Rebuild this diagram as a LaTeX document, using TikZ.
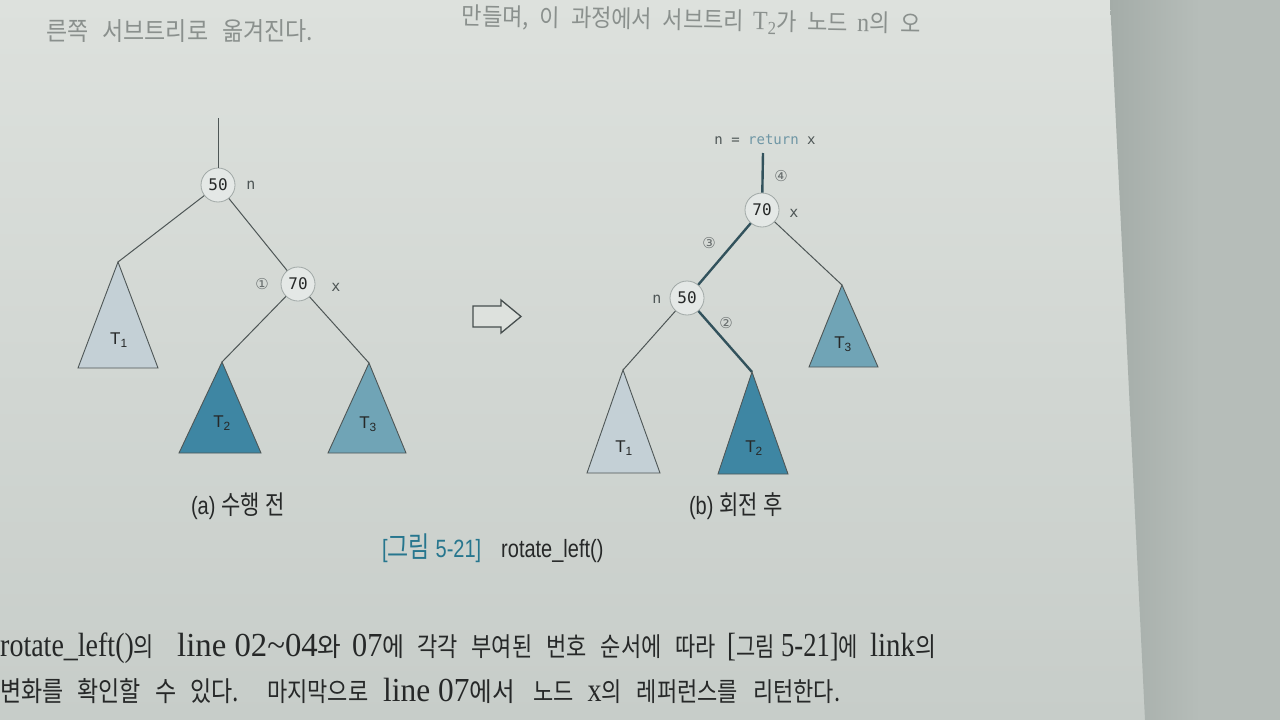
\documentclass[tikz,border=0pt]{standalone}
\usepackage{fontspec}
\setmainfont{Liberation Serif}
\newfontfamily\kr{Noto Sans CJK KR}
\newfontfamily\mono{DejaVu Sans Mono}
\newfontfamily\djv{DejaVu Sans}
\newfontfamily\ssf{Liberation Sans}
\definecolor{pageA}{RGB}{221,225,221}
\definecolor{pageB}{RGB}{199,205,201}
\definecolor{pagedark}{RGB}{182,189,185}
\definecolor{shadowC}{RGB}{164,172,168}
\definecolor{lineC}{RGB}{78,86,86}
\definecolor{boldC}{RGB}{50,82,92}
\definecolor{nodeF}{RGB}{228,232,230}
\definecolor{nodeD}{RGB}{160,168,166}
\definecolor{tA}{RGB}{196,208,214}
\definecolor{tB}{RGB}{62,134,163}
\definecolor{tC}{RGB}{112,164,182}
\definecolor{capC}{RGB}{38,118,142}
\definecolor{retC}{RGB}{110,150,165}
\definecolor{txt}{RGB}{38,40,40}
\definecolor{faint}{RGB}{138,144,141}
% Korean text: size, word space, text
\newcommand\KK[3]{{\kr\fontsize{#1}{#1}\selectfont\spaceskip=#2pt\relax\xspaceskip=#2pt\relax #3}}
\newcommand\K[1]{\KK{21}{6}{#1}}
\newcommand\KA[1]{\KK{22}{14}{#1}}
\newcommand\KB[1]{\KK{22}{15}{#1}}
\tikzset{
  cnode/.style={circle, draw=nodeD, fill=nodeF, line width=0.8pt, minimum size=34pt, inner sep=0pt,
    font=\mono\fontsize{16}{16}\selectfont, text=txt},
  edge/.style={draw=lineC, line width=1pt},
  boldedge/.style={draw=boldC, line width=2.4pt},
  lab/.style={font=\mono\fontsize{15}{15}\selectfont, text=lineC, inner sep=0pt},
  circnum/.style={font=\djv\fontsize{15}{15}\selectfont, text=lineC!85, inner sep=0pt},
  tribox/.style={draw=lineC, line width=0.9pt, line join=miter},
  tlab/.style={font=\ssf\fontsize{17}{17}\selectfont, text=txt, inner sep=0pt},
  captext/.style={font=\ssf\fontsize{20}{20}\selectfont, text=txt, inner sep=0pt},
  body/.style={font=\fontsize{28}{28}\selectfont, text=txt, inner sep=0pt, anchor=base west},
  toptext/.style={font=\fontsize{24}{24}\selectfont, text=faint, inner sep=0pt},
}
\begin{document}
\begin{tikzpicture}[x=1pt,y=-1pt]
\useasboundingbox (0,0) rectangle (1280,720);
% page background
\shade[top color=pageA, bottom color=pageB] (0,0) rectangle (1280,720);
\shade[left color=shadowC, right color=pagedark] (1110,0) -- (1200,0) -- (1200,720) -- (1145,720) -- cycle;
\fill[pagedark] (1199,0) rectangle (1280,720);

% top text (cut off in the photo)
\node[toptext, anchor=east, rotate=-1] (top1) at (921,25)
  {\scalebox{1}[1.1]{\KK{22}{11}{만들며, 이 과정에서 서브트리}\hspace{9pt}T\textsubscript{2}\KK{22}{11}{가 노드}\hspace{9pt}n\KK{22}{11}{의 오}}};
\node[toptext, anchor=west] (top2) at (46,31) {\scalebox{1}[1.1]{\KK{23}{14}{른쪽 서브트리로 옮겨진다.}}};

% ---------------- (a) before ----------------
\node[cnode] (a50) at (218,185) {50};
\node[cnode] (a70) at (298,284) {70};
\coordinate (atop) at (218,118);
\coordinate (aT1) at (118,262);
\coordinate (aT2) at (222,362);
\coordinate (aT3) at (369,363);
\draw[edge] (atop) -- (a50);
\draw[edge] (a50) -- (aT1);
\draw[edge] (a50) -- (a70);
\draw[edge] (a70) -- (aT2);
\draw[edge] (a70) -- (aT3);
\draw[tribox, fill=tA] (aT1) -- (78,368) -- (158,368) -- cycle;
\draw[tribox, fill=tB] (aT2) -- (179,453) -- (261,453) -- cycle;
\draw[tribox, fill=tC] (aT3) -- (328,453) -- (406,453) -- cycle;
\node[tlab] (aT1l) at (119,340) {T\textsubscript{1}};
\node[tlab] (aT2l) at (222,423) {T\textsubscript{2}};
\node[tlab] (aT3l) at (368,424) {T\textsubscript{3}};
\node[lab] (an) at (251,185) {n};
\node[lab] (ax) at (336,287) {x};
\node[circnum] (c1) at (262,284) {①};

% hollow arrow
\draw[lineC!90!black, line width=1.3pt, fill=pageA, line join=miter]
  (473,306) -- (501,306) -- (501,300) -- (521,316.5) -- (501,333) -- (501,327) -- (473,327) -- cycle;

% ---------------- (b) after ----------------
\node[font=\mono\fontsize{14}{14}\selectfont, text=lineC, inner sep=0pt] (ret) at (765,140)
  {n = \textcolor{retC}{return} x};
\coordinate (btop) at (763,153);
\node[cnode] (b70) at (762,210) {70};
\node[cnode] (b50) at (687,298) {50};
\coordinate (bT1) at (623,370);
\coordinate (bT2) at (752,372);
\coordinate (bT3) at (842,285);
\draw[boldedge] (btop) -- (b70);
\draw[boldedge] (b70) -- (b50);
\draw[edge] (b70) -- (bT3);
\draw[edge] (b50) -- (bT1);
\draw[boldedge] (b50) -- (bT2);
\draw[tribox, fill=tC] (bT3) -- (809,367) -- (878,367) -- cycle;
\draw[tribox, fill=tA] (bT1) -- (587,473) -- (660,473) -- cycle;
\draw[tribox, fill=tB] (bT2) -- (718,474) -- (788,474) -- cycle;
\node[tlab] (bT1l) at (624,448) {T\textsubscript{1}};
\node[tlab] (bT2l) at (754,448) {T\textsubscript{2}};
\node[tlab] (bT3l) at (843,344) {T\textsubscript{3}};
\node[lab] (bx) at (794,213) {x};
\node[lab] (bn) at (657,299) {n};
\node[circnum] (c4) at (781,176) {④};
\node[circnum] (c3) at (709,243) {③};
\node[circnum] (c2) at (726,323) {②};

% captions
\node[captext] (capa) at (238,506) {\scalebox{1}[1.25]{(a) \K{수행 전}}};
\node[captext] (capb) at (736,506) {\scalebox{1}[1.25]{(b) \K{회전 후}}};
\node[captext, anchor=west] (capfig) at (382,548)
  {\scalebox{1}[1.25]{\textcolor{capC}{[{\kr\fontsize{23}{23}\selectfont 그림} 5-21]}\hspace{20pt}rotate\_left()}};

% body text, line 1
\node[body] (l1a) at (0,656)   {\scalebox{1}[1.2]{rotate\_left()\KA{의}}};
\node[body] (l1b) at (177,656) {\scalebox{1.17}[1.2]{line 02\textasciitilde04\KA{와}}};
\node[body] (l1c) at (352,656) {\scalebox{1.08}[1.2]{07\KA{에}}};
\node[body] (l1d) at (417,656) {\scalebox{1}[1.2]{\KA{각각 부여된 번호 순서에 따라}}};
\node[body] (l1e) at (727,656) {\scalebox{0.95}[1.2]{[\KA{그림} 5-21]\KA{에}}};
\node[body] (l1f) at (870,656) {\scalebox{1.03}[1.2]{link\KA{의}}};
% body text, line 2
\node[body] (l2a) at (0,701)   {\scalebox{1}[1.2]{\KK{23}{14}{변화를 확인할 수 있다.}}};
\node[body] (l2b) at (267,701) {\scalebox{1}[1.2]{\KB{마지막으로}}};
\node[body] (l2c) at (383,701) {\scalebox{1.12}[1.2]{line 07\KB{에서}}};
\node[body] (l2d) at (533,701) {\scalebox{1}[1.2]{\KB{노드}\hspace{14pt}x\KB{의 레퍼런스를 리턴한다.}}};
\end{tikzpicture}
\end{document}
